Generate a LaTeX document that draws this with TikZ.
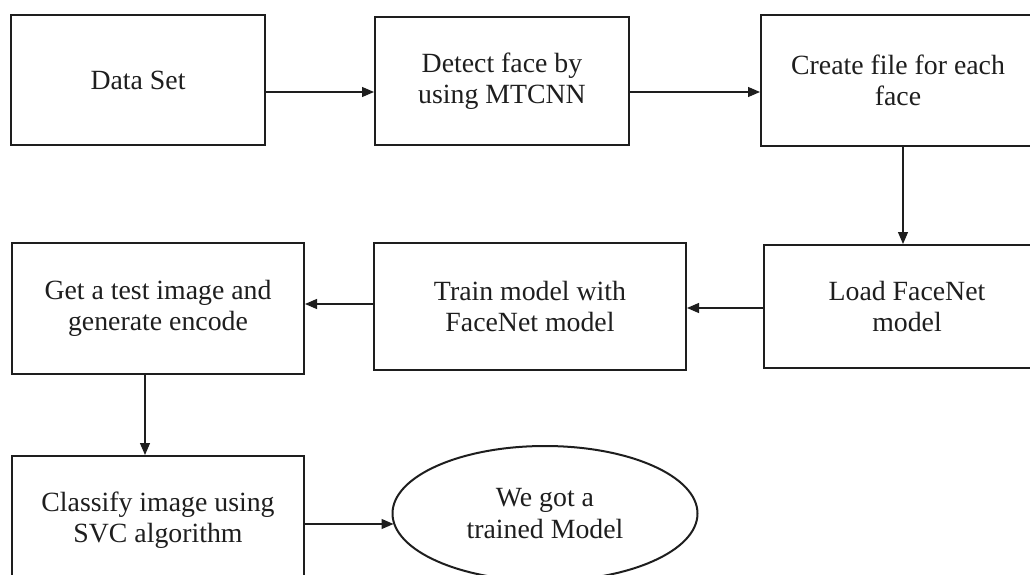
\documentclass[tikz,border=0pt]{standalone}
\usepackage{fontspec}
\setmainfont{Liberation Serif}
\usetikzlibrary{arrows.meta,shapes.geometric}
\definecolor{ink}{HTML}{1E1E1E}
\begin{document}
\begin{tikzpicture}[x=1pt,y=-1pt,
  box/.style={draw=ink,line width=2pt,inner sep=0pt,align=center,text=ink,
    font=\fontsize{27.8}{31.5}\selectfont},
  oval/.style={draw=ink,line width=2pt,ellipse,inner sep=0pt,align=center,text=ink,
    font=\fontsize{27.8}{31.5}\selectfont},
  arr/.style={draw=ink,line width=1.2pt,-{Triangle[length=12pt,width=10pt]}}]
\useasboundingbox (0,0) rectangle (1030,575);
\clip (0,0) rectangle (1030,575);
\node[box,minimum width=254pt,minimum height=130pt] (ds) at (138,80) {Data Set};
\node[box,minimum width=254pt,minimum height=128pt] (det) at (502,81) {Detect face by\\using MTCNN};
\node[box,minimum width=274pt,minimum height=131pt] (cre) at (898,80.5) {Create file for each\\face};
\node[box,minimum width=286pt,minimum height=123pt] (load) at (907,306.5) {Load FaceNet\\model};
\node[box,minimum width=312pt,minimum height=127pt] (train) at (530,306.5) {Train model with\\FaceNet model};
\node[box,minimum width=292pt,minimum height=131pt] (get) at (158,308.5) {Get a test image and\\generate encode};
\node[box,minimum width=292pt,minimum height=128pt] (cls) at (158,520) {Classify image using\\SVC algorithm};
\node[oval,minimum width=305pt,minimum height=135pt] (ell) at (545,513.5) {We got a\\trained Model};
\coordinate (r1) at (0,92);
\coordinate (c1) at (903,0);
\coordinate (r2) at (0,308);
\coordinate (r3) at (0,304);
\coordinate (c2) at (145,0);
\coordinate (r4) at (0,524);
\draw[arr] (ds.east |- r1) -- (det.west |- r1);
\draw[arr] (det.east |- r1) -- (cre.west |- r1);
\draw[arr] (cre.south -| c1) -- (load.north -| c1);
\draw[arr] (load.west |- r2) -- (train.east |- r2);
\draw[arr] (train.west |- r3) -- (get.east |- r3);
\draw[arr] (get.south -| c2) -- (cls.north -| c2);
\draw[arr] (cls.east |- r4) -- ([xshift=2pt]ell.west |- r4);
\end{tikzpicture}
\end{document}
